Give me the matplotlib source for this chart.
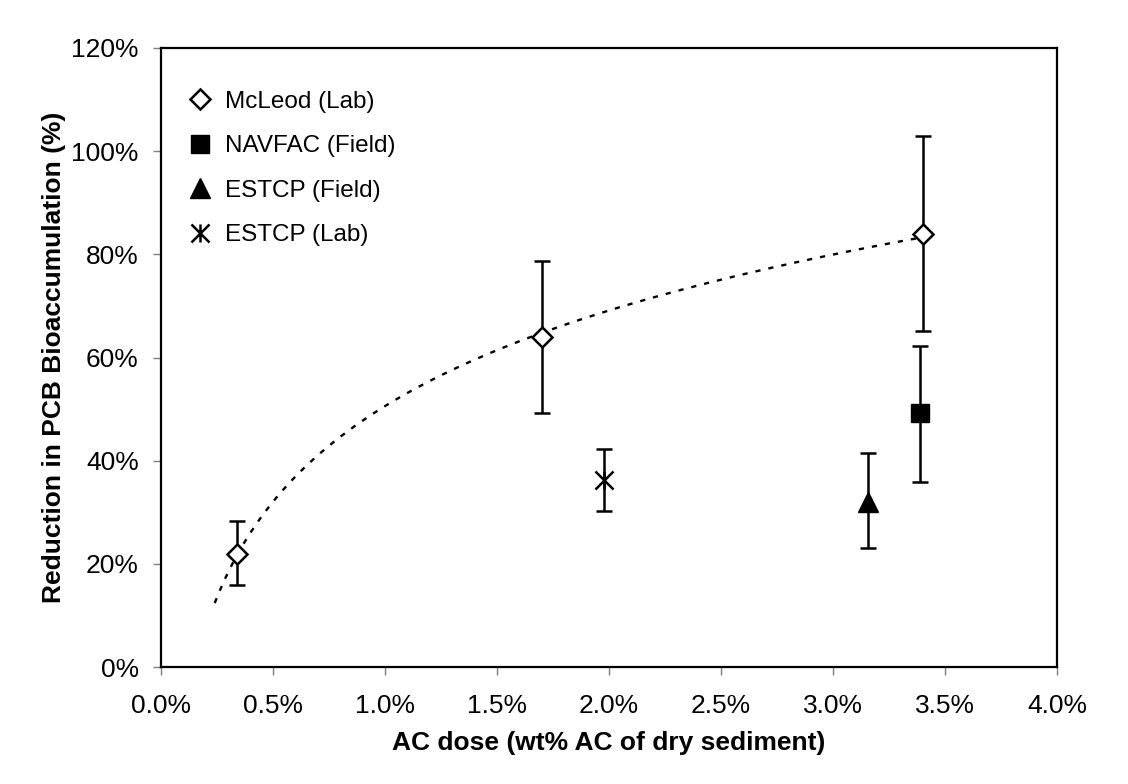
import numpy as np
import matplotlib.pyplot as plt
from matplotlib.path import Path

plt.rcParams['font.family'] = ['Liberation Sans', 'DejaVu Sans']

# data (AC dose in wt%, reduction in %)
mcleod_x = [0.34, 1.70, 3.40]
mcleod_y = [22.0, 63.9, 83.9]
mcleod_lo = [15.9, 49.3, 65.1]
mcleod_hi = [28.4, 78.7, 103.0]

navfac_x = [3.39]
navfac_y = [49.2]
navfac_lo = [35.8]
navfac_hi = [62.3]

estcp_field_x = [3.155]
estcp_field_y = [32.0]
estcp_field_lo = [23.1]
estcp_field_hi = [41.5]

estcp_lab_x = [1.98]
estcp_lab_y = [36.2]
estcp_lab_lo = [30.3]
estcp_lab_hi = [42.2]

# log trendline range for McLeod data
trend_start, trend_end = 0.24, 3.45

xticks = [0.0, 0.5, 1.0, 1.5, 2.0, 2.5, 3.0, 3.5, 4.0]
yticks = [0, 20, 40, 60, 80, 100, 120]

# Excel-style star marker: X with a vertical stroke
star = Path([(-1, -1), (1, 1), (-1, 1), (1, -1), (0, -1), (0, 1)],
            [Path.MOVETO, Path.LINETO, Path.MOVETO, Path.LINETO, Path.MOVETO, Path.LINETO])

fig = plt.figure(figsize=(11.28, 7.84), dpi=100)
ax = fig.add_axes([0.1427, 0.149, 0.7943, 0.790])

# trendline y = a ln(x) + b fitted to McLeod
a, b = np.polyfit(np.log(mcleod_x), mcleod_y, 1)
xt = np.linspace(trend_start, trend_end, 200)
ax.plot(xt, a * np.log(xt) + b, color='black', lw=1.7, linestyle=(0, (2.2, 3.4)), zorder=2)

def err(x, y, lo, hi):
    yerr = [np.array(y) - np.array(lo), np.array(hi) - np.array(y)]
    ax.errorbar(x, y, yerr=yerr, fmt='none', ecolor='black', elinewidth=1.8,
                capsize=5.8, capthick=1.8, zorder=3)

err(mcleod_x, mcleod_y, mcleod_lo, mcleod_hi)
err(navfac_x, navfac_y, navfac_lo, navfac_hi)
err(estcp_field_x, estcp_field_y, estcp_field_lo, estcp_field_hi)
err(estcp_lab_x, estcp_lab_y, estcp_lab_lo, estcp_lab_hi)

ax.plot(mcleod_x, mcleod_y, linestyle='none', marker='D', ms=10, mfc='white',
        mec='black', mew=1.8, label='McLeod (Lab)', zorder=4)
ax.plot(navfac_x, navfac_y, linestyle='none', marker='s', ms=12.5, mfc='black',
        mec='black', label='NAVFAC (Field)', zorder=4)
ax.plot(estcp_field_x, estcp_field_y, linestyle='none', marker='^', ms=14, mfc='black',
        mec='black', label='ESTCP (Field)', zorder=4)
ax.plot(estcp_lab_x, estcp_lab_y, linestyle='none', marker=star, ms=13, mfc='none',
        mec='black', mew=1.8, label='ESTCP (Lab)', zorder=4)

ax.set_xlim(0, 4.0)
ax.set_ylim(0, 120)
ax.set_xticks(xticks)
ax.set_yticks(yticks)
ax.set_xticklabels([f'{v:.1f}%' for v in xticks])
ax.set_yticklabels([f'{v}%' for v in yticks])
ax.tick_params(axis='both', labelsize=19, length=6, width=1, color='#808080',
               direction='out', pad=10)
ax.tick_params(axis='x', pad=13)

for s in ax.spines.values():
    s.set_linewidth(1.6)
    s.set_color('black')

ax.set_xlabel('AC dose (wt% AC of dry sediment)', fontsize=19, fontweight='bold', labelpad=10)
ax.set_ylabel('Reduction in PCB Bioaccumulation (%)', fontsize=19, fontweight='bold', labelpad=4)

ax.legend(loc='upper left', bbox_to_anchor=(0.019, 0.946), frameon=False, fontsize=17.5,
          handlelength=1.0, handletextpad=0.54, labelspacing=0.92, borderaxespad=0)

plt.savefig('out.png', dpi=100)
